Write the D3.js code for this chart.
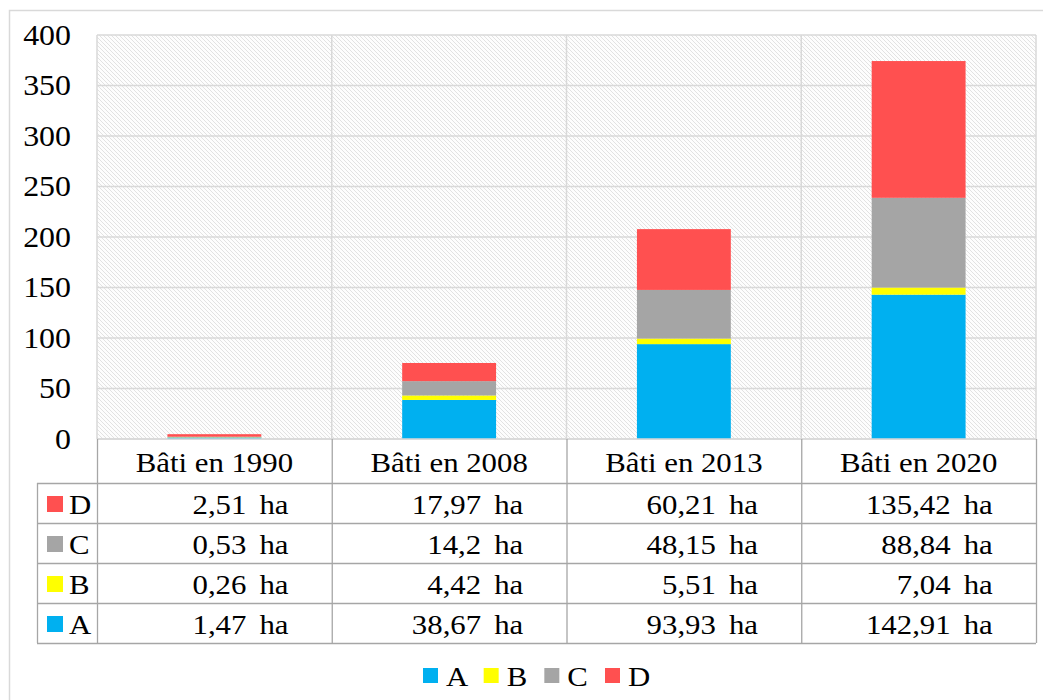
<!DOCTYPE html>
<html>
<head>
<meta charset="utf-8">
<script src="https://cdn.jsdelivr.net/npm/d3@7"></script>
<style>
  body { margin: 0; background: #fff; }
</style>
</head>
<body>
<div id="chart"></div>
<script>
var categories = ["Bâti en 1990", "Bâti en 2008", "Bâti en 2013", "Bâti en 2020"];
var seriesNames = ["A", "B", "C", "D"];
var valuesA = [1.47, 38.67, 93.93, 142.91];
var valuesB = [0.26, 4.42, 5.51, 7.04];
var valuesC = [0.53, 14.2, 48.15, 88.84];
var valuesD = [2.51, 17.97, 60.21, 135.42];
var yTicks = [0, 50, 100, 150, 200, 250, 300, 350, 400];
var colors = {A: "#00B0F0", B: "#FFFF00", C: "#A5A5A5", D: "#FF5050"};

document.addEventListener('DOMContentLoaded', function() {
  draw();
});

function draw(){
var W = 1043, H = 700;
var plot = {left: 97, right: 1036, top: 35, bottom: 439};
var rowH = 40, headH = 44, tableLeft = 37;
var sx = 1.1; // horizontal stretch of the text as in the picture

var svg = d3.select("#chart").append("svg")
    .attr("width", W).attr("height", H)
    .attr("font-family", "Liberation Serif");

// hatch background
var defs = svg.append("defs");
var pat = defs.append("pattern")
    .attr("id", "hatch")
    .attr("patternUnits", "userSpaceOnUse")
    .attr("width", 4).attr("height", 4);
pat.append("rect").attr("width", 4).attr("height", 4).attr("fill", "#fdfdfd");
pat.append("path")
    .attr("d", "M-1,-1 L5,5 M3,-1 L5,1 M-1,3 L1,5")
    .attr("stroke", "#e2e2e2").attr("stroke-width", 1);

// outer frame
svg.append("rect")
    .attr("x", 9.5).attr("y", 10.5)
    .attr("width", W + 20).attr("height", H + 20)
    .attr("fill", "none").attr("stroke", "#d9d9d9").attr("stroke-width", 1.5);

var rows = [valuesA, valuesB, valuesC, valuesD];
var data = categories.map(function(c, j){
  var o = {cat: c};
  seriesNames.forEach(function(s, i){ o[s] = rows[i][j]; });
  return o;
});

var x = d3.scaleBand().domain(categories).range([plot.left, plot.right]);
var y = d3.scaleLinear().domain([0, 400]).range([plot.bottom, plot.top]);

svg.append("rect")
    .attr("x", plot.left).attr("y", plot.top)
    .attr("width", plot.right - plot.left).attr("height", plot.bottom - plot.top)
    .attr("fill", "url(#hatch)");

// horizontal grid
svg.append("g").selectAll("line")
  .data(yTicks)
  .enter().append("line")
    .attr("x1", plot.left).attr("x2", plot.right)
    .attr("y1", function(d){ return y(d); }).attr("y2", function(d){ return y(d); })
    .attr("stroke", "#d9d9d9").attr("stroke-width", 1.5);

// vertical grid at category boundaries
var bounds = categories.map(function(c){ return x(c); }).concat([plot.right]);
svg.append("g").selectAll("line")
  .data(bounds)
  .enter().append("line")
    .attr("x1", function(d){ return d; }).attr("x2", function(d){ return d; })
    .attr("y1", plot.top).attr("y2", plot.bottom)
    .attr("stroke", "#d9d9d9").attr("stroke-width", 1.5);

function txt(g, px, py, s, anchor, size){
  return g.append("text")
    .attr("transform", "translate(" + px + "," + py + ") scale(" + sx + ",1)")
    .attr("text-anchor", anchor)
    .attr("dominant-baseline", "central")
    .attr("font-family", "Liberation Serif")
    .attr("fill", "#000")
    .style("font-size", size + "px")
    .text(s);
}
// y tick labels
var ax = svg.append("g");
yTicks.forEach(function(t){ txt(ax, 71, y(t), t, "end", 29); });

// stacked bars
var stack = d3.stack().keys(seriesNames)(data);
var bw = x.bandwidth() * 0.4;
svg.append("g").selectAll("g")
  .data(stack)
  .enter().append("g")
    .attr("fill", function(d){ return colors[d.key]; })
  .selectAll("rect")
  .data(function(d){ return d; })
  .enter().append("rect")
    .attr("x", function(d){ return x(d.data.cat) + (x.bandwidth() - bw) / 2; })
    .attr("width", bw)
    .attr("y", function(d){ return y(d[1]); })
    .attr("height", function(d){ return y(d[0]) - y(d[1]); });

// data table
var tb = svg.append("g");
var tableTop = plot.bottom, headBottom = plot.bottom + headH;
var tableBottom = headBottom + rowH * seriesNames.length;
var lineCol = "#a6a6a6";
tb.append("line").attr("x1", plot.left).attr("x2", plot.right)
  .attr("y1", tableTop).attr("y2", tableTop).attr("stroke", "#d9d9d9").attr("stroke-width", 1.5);
for (var r = 0; r <= seriesNames.length; r++) {
  tb.append("line").attr("x1", tableLeft).attr("x2", plot.right)
    .attr("y1", headBottom + r * rowH + 0.5).attr("y2", headBottom + r * rowH + 0.5)
    .attr("stroke", lineCol).attr("stroke-width", 1.3);
}
tb.append("line").attr("x1", tableLeft + 0.5).attr("x2", tableLeft + 0.5)
  .attr("y1", headBottom).attr("y2", tableBottom).attr("stroke", lineCol).attr("stroke-width", 1.3);
bounds.forEach(function(b){
  tb.append("line").attr("x1", b + 0.5).attr("x2", b + 0.5)
    .attr("y1", tableTop).attr("y2", tableBottom).attr("stroke", lineCol).attr("stroke-width", 1.3);
});

categories.forEach(function(c){
  txt(tb, x(c) + x.bandwidth() / 2, tableTop + headH / 2 + 1, c, "middle", 28);
});

var fmt = function(v){ return String(v).replace(".", ","); };
// rows displayed top to bottom: D, C, B, A
var order = seriesNames.slice().reverse();
order.forEach(function(s, k){
  var cy = headBottom + k * rowH + rowH / 2 + 1;
  tb.append("rect").attr("x", 47).attr("y", cy - 8).attr("width", 16).attr("height", 16)
    .attr("fill", colors[s]);
  txt(tb, 69, cy, s, "start", 28);
  var vals = rows[seriesNames.indexOf(s)];
  categories.forEach(function(c, j){
    var cx = x(c) + x.bandwidth() / 2;
    txt(tb, cx + 32, cy, fmt(vals[j]), "end", 28);
    txt(tb, cx + 45, cy, "ha", "start", 28);
  });
});

// bottom legend
var lg = svg.append("g");
var legX = d3.scalePoint().domain(seriesNames).range([423, 605]);
seriesNames.forEach(function(s){
  lg.append("rect").attr("x", legX(s)).attr("y", 668).attr("width", 15).attr("height", 15)
    .attr("fill", colors[s]);
  txt(lg, legX(s) + 23, 676, s, "start", 28);
});
}
</script>
</body>
</html>
